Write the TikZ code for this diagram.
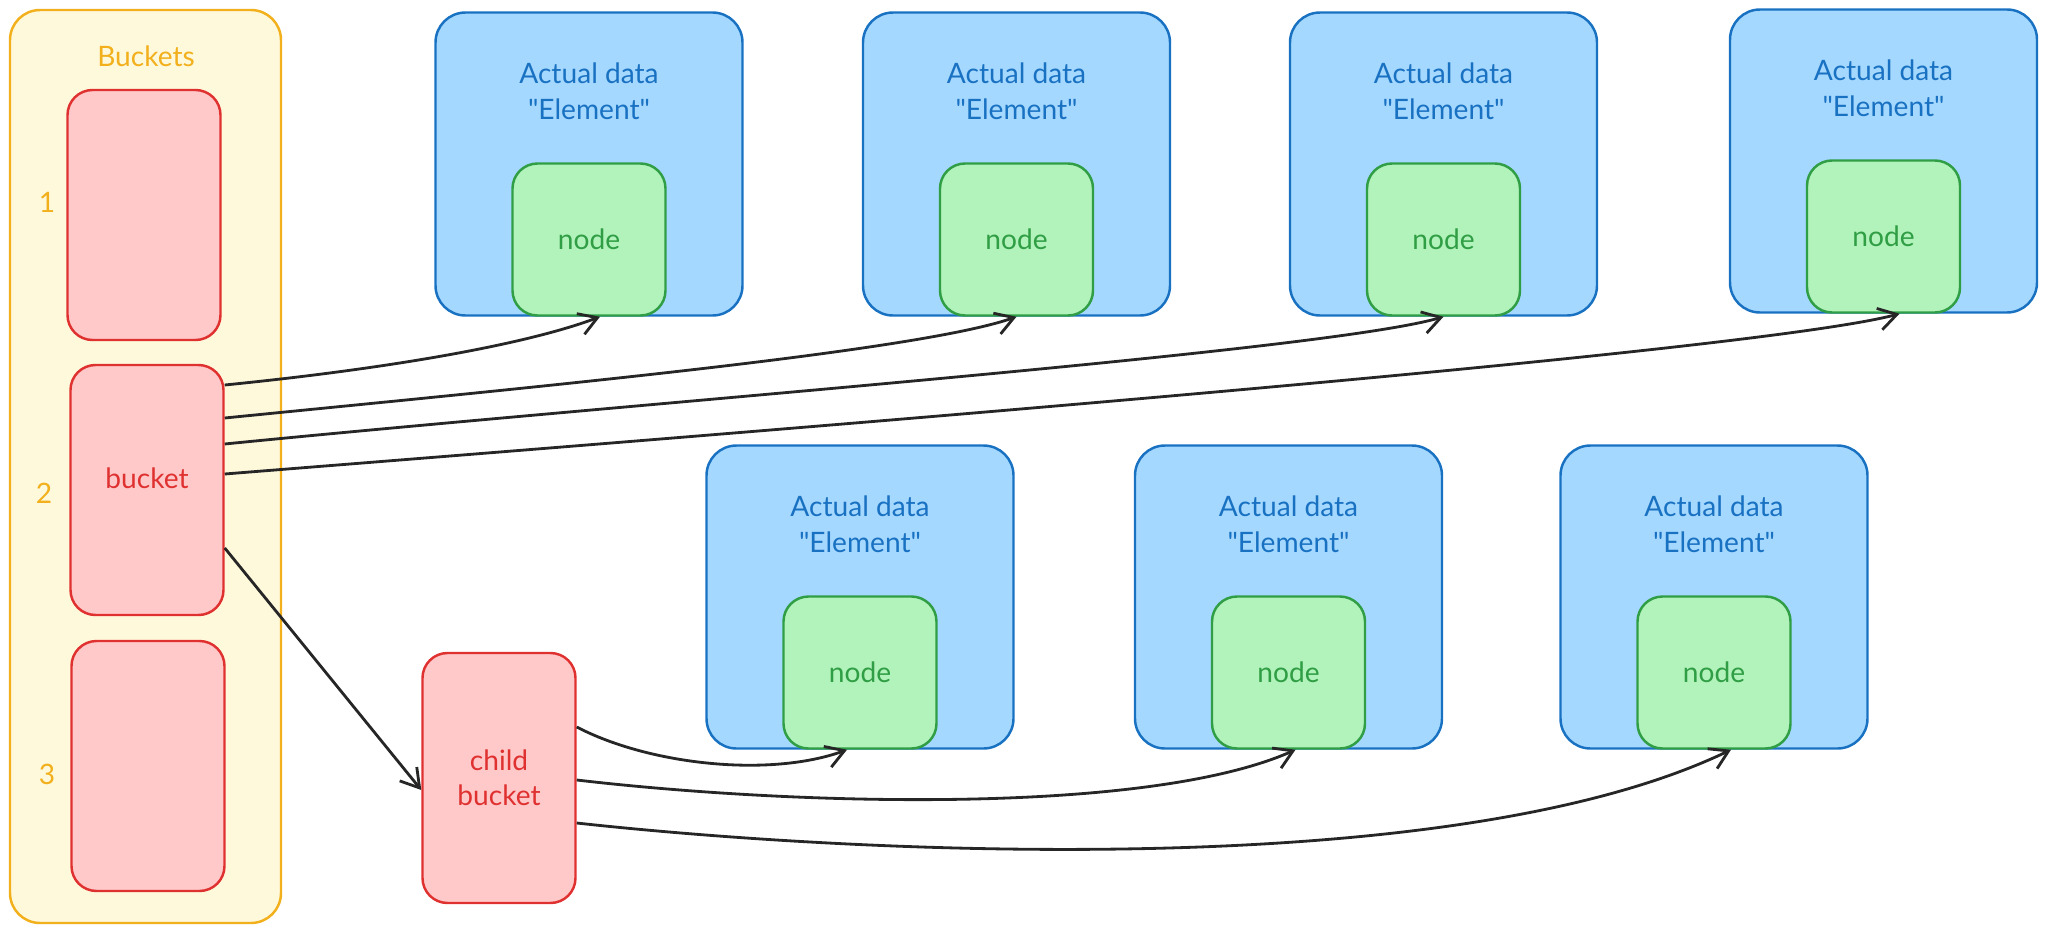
\documentclass[tikz,border=0pt]{standalone}
\usepackage{fontspec}
\setmainfont{Lato}
\usepackage{tikz}
\usetikzlibrary{arrows.meta}
\definecolor{bktyel}{HTML}{F2B01C}
\definecolor{bktyelbg}{HTML}{FFF9DB}
\definecolor{bktred}{HTML}{E03131}
\definecolor{bktredbg}{HTML}{FFC9C9}
\definecolor{elblue}{HTML}{1971C2}
\definecolor{elbluebg}{HTML}{A5D8FF}
\definecolor{ndgreen}{HTML}{2F9E44}
\definecolor{ndgreenbg}{HTML}{B2F2BB}
\tikzset{
  txt/.style={font=\fontsize{8}{10}\selectfont},
  poolbox/.style={draw=bktyel,fill=bktyelbg,line width=0.7pt,rounded corners=3mm,
    minimum width=27.1mm,minimum height=91.3mm},
  bucketbox/.style={txt,draw=bktred,fill=bktredbg,text=bktred,line width=0.7pt,
    rounded corners=2.5mm,minimum width=15.3mm,minimum height=25mm,align=center},
  elembox/.style={draw=elblue,fill=elbluebg,line width=0.7pt,rounded corners=3mm,
    minimum width=30.7mm,minimum height=30.3mm},
  elemtext/.style={txt,text=elblue,align=center},
  nodebox/.style={txt,draw=ndgreen,fill=ndgreenbg,text=ndgreen,line width=0.7pt,
    rounded corners=2.5mm,minimum width=15.3mm,minimum height=15.2mm,anchor=south},
  link/.style={line width=0.8pt,black!85,-{Straight Barb[length=1.8mm,width=2.2mm]}}
}
\newcommand{\elem}[3]{%
  \node[elembox] (e#1) at (#2,#3) {};
  \node[elemtext] (t#1) at ([yshift=-8mm]e#1.north)
    {Actual data\\\textquotedbl Element\textquotedbl};
  \node[nodebox] (n#1) at (e#1.south) {node};}

\begin{document}
\begin{tikzpicture}[x=0.1mm,y=-0.1mm]
  \useasboundingbox (0,0) rectangle (2047,934);
  % bucket array
  \node[poolbox] (pool) at (145.5,466.5) {};
  \node[txt,text=bktyel] (title) at (146,56) {Buckets};
  \node[bucketbox] (b1) at (144,215) {};
  \node[bucketbox] (b2) at (147,490) {};
  \node[txt,text=bktred] (b2txt) at ([yshift=1.2mm]b2.center) {bucket};
  \node[bucketbox] (b3) at (148,766) {};
  \node[txt,text=bktyel] (k1) at (47,202) {1};
  \node[txt,text=bktyel] (k2) at (44,493) {2};
  \node[txt,text=bktyel] (k3) at (47,774) {3};
  \node[bucketbox] (child) at (499,778) {child\\bucket};
  % elements
  \elem{1}{589}{164} \elem{2}{1016.5}{164} \elem{3}{1443.5}{164} \elem{4}{1883.5}{161}
  \elem{5}{860}{597} \elem{6}{1288.5}{597} \elem{7}{1714}{597}
  % chains
  \draw[link] ([yshift=10.5mm]b2.east) .. controls +(150,-15) and +(-80,30) .. ([xshift=1.1mm]n1.south);
  \draw[link] ([yshift=7.2mm]b2.east) .. controls +(300,-30) and +(-100,35) .. (n2.south);
  \draw[link] ([yshift=4.6mm]b2.east) .. controls +(400,-40) and +(-120,35) .. (n3.south);
  \draw[link] ([yshift=1.6mm]b2.east) .. controls +(500,-40) and +(-150,40) .. ([xshift=1.6mm]n4.south);
  \draw[link] ([yshift=-5.8mm]b2.east) -- ([yshift=-1.2mm]child.west);
  \draw[link] ([yshift=5.1mm]child.east) .. controls +(73,38) and +(-77,28) .. ([xshift=-1.3mm]n5.south);
  \draw[link] ([yshift=-0.2mm]child.east) .. controls +(223,26) and +(-146,65) .. ([xshift=0.7mm]n6.south);
  \draw[link] ([yshift=-4.5mm]child.east) .. controls +(273,30) and +(-281,135) .. ([xshift=1.7mm]n7.south);
\end{tikzpicture}
\end{document}
